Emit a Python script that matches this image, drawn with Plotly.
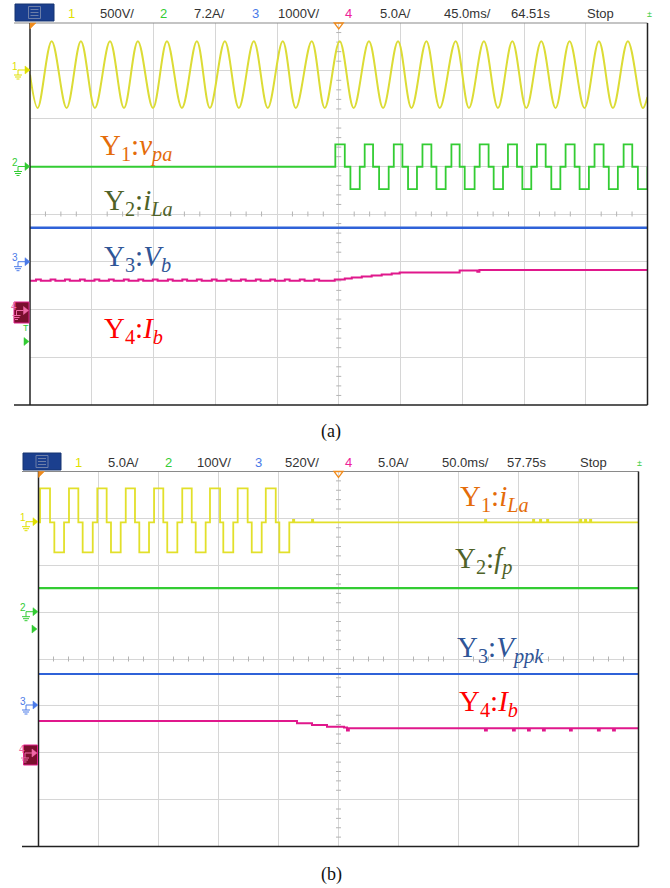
import plotly.graph_objects as go

# ================= DATA =================
# ---- panel (a): 45 ms/div, 10 div ; values in screen divisions (centre = 0)
A_T_MAX = 450.0
ch1a_peak_t = [15.8, 37.1, 58.3, 78.6, 99.8, 121.6, 142.0, 163.1, 184.2, 205.3, 225.7,
               247.0, 268.2, 288.9, 310.2, 330.8, 351.5, 372.6, 393.2, 414.6, 435.7]
ch1a_trough_t = [5.6, 26.7, 47.3, 68.5, 89.6, 110.7, 131.1, 152.2, 173.3, 193.7, 214.8,
                 235.9, 257.3, 278.0, 298.6, 319.9, 341.0, 361.7, 383.0, 404.1, 424.8, 446.6]
ch1a_peak_v = 3.62
ch1a_trough_v = 2.22
ch1a_start_v = 2.92
ch1a_end_v = 2.45

ch2a_zero, ch2a_hi, ch2a_lo = 0.99, 1.46, 0.52
ch2a_pos_start = [222.5, 243.9, 265.1, 286.0, 307.1, 327.7, 348.3, 369.4, 390.3, 411.4, 432.6]
ch2a_pos_end = [229.4, 250.0, 271.4, 292.5, 313.1, 334.2, 354.9, 375.8, 396.9, 418.0, 438.9]
ch2a_neg_start = [233.5, 254.4, 275.5, 296.2, 316.8, 337.9, 358.8, 379.9, 400.5, 421.8, 443.0]
ch2a_neg_end = [240.3, 261.4, 282.0, 302.9, 324.0, 344.7, 365.3, 386.5, 407.3, 428.4, 450.0]

ch3a_level = -0.29

ch4a_base = -1.40
ch4a_notch_v = -1.37
ch4a_notch_t = [4.4, 15.0, 25.5, 36.4, 47.0, 57.5, 68.4, 79.0, 89.5, 100.5, 111.0,
                121.6, 132.5, 143.1, 153.7, 164.6, 175.1, 185.7, 196.6, 207.2]
ch4a_step_t = [222.1, 229.4, 234.5, 241.8, 249.0, 256.3, 263.6, 269.4, 313.1, 326.0, 327.5]
ch4a_step_v = [-1.372, -1.351, -1.330, -1.309, -1.288, -1.267, -1.246, -1.225, -1.183, -1.21, -1.175]

# ---- panel (b): 50 ms/div, 10 div
B_T_MAX = 500.0
ch1b_zero, ch1b_hi, ch1b_lo = 2.915, 3.64, 2.275
ch1b_pos_start = [1.3, 25.4, 49.0, 72.7, 96.3, 119.8, 142.9, 166.0, 189.4]
ch1b_pos_end = [9.6, 33.2, 56.8, 80.4, 104.0, 127.7, 151.3, 174.3, 197.7]
ch1b_neg_start = [13.2, 36.8, 60.4, 84.0, 107.3, 131.0, 154.0, 177.7, 200.7]
ch1b_neg_end = [21.3, 45.2, 68.5, 92.1, 115.7, 139.3, 162.3, 186.0, 209.0]
ch1b_spike_t = [212.1, 227.9, 372.1, 412.1, 417.9, 423.8, 451.3, 455.4, 459.6]

ch2b_level = 1.514
ch3b_level = -0.32

ch4b_step_t = [0.0, 215.4, 227.9, 240.4, 254.6, 263.8]
ch4b_step_v = [-1.322, -1.371, -1.407, -1.443, -1.46, -1.478]
ch4b_spike_t = [257.1, 372.1, 395.4, 407.9, 420.4, 442.9, 466.2, 478.8]

# header texts
hdr_a = [("1", "#e0e000"), ("500V/", "#333"), ("2", "#33cc33"), ("7.2A/", "#333"),
         ("3", "#4a7ae8"), ("1000V/", "#333"), ("4", "#ee2299"), ("5.0A/", "#333"),
         ("45.0ms/", "#333"), ("64.51s", "#333"), ("Stop", "#333")]
hdr_b = [("1", "#e0e000"), ("5.0A/", "#333"), ("2", "#33cc33"), ("100V/", "#333"),
         ("3", "#4a7ae8"), ("520V/", "#333"), ("4", "#ee2299"), ("5.0A/", "#333"),
         ("50.0ms/", "#333"), ("57.75s", "#333"), ("Stop", "#333")]
hdr_a_x = [71, 116.5, 163, 209, 255, 299, 348, 395, 467, 531, 600]
hdr_b_x = [78, 123, 168, 213.5, 258, 301.5, 348, 393, 465, 526.5, 593.5]

labels_a = ["Y<sub>1</sub>:<i>v</i><sub><i>pa</i></sub>",
            "Y<sub>2</sub>:<i>i</i><sub><i>La</i></sub>",
            "Y<sub>3</sub>:<i>V</i><sub><i>b</i></sub>",
            "Y<sub>4</sub>:<i>I</i><sub><i>b</i></sub>"]
labels_b = ["Y<sub>1</sub>:<i>i</i><sub><i>La</i></sub>",
            "Y<sub>2</sub>:<i>f</i><sub><i>p</i></sub>",
            "Y<sub>3</sub>:<i>V</i><sub><i>ppk</i></sub>",
            "Y<sub>4</sub>:<i>I</i><sub><i>b</i></sub>"]
label_colors = ["#e46c0a", "#4f6228", "#2f5597", "#ff0000"]

# ================= helpers =================
FW, FH = 670, 888
def PX(x): return x / FW
def PY(y): return 1 - y / FH

FA = dict(x0=30, x1=647.5, y0=23, y1=405)      # panel a frame (page pixels)
FB = dict(x0=38.5, x1=638.5, y0=471.5, y1=846.5)  # panel b frame

def pulse_steps(zero, hi, lo, ps, pe, ns, ne, tmax):
    ev = [(0.0, zero)]
    for a, b in zip(ps, pe):
        ev += [(a, hi), (b, zero)]
    for a, b in zip(ns, ne):
        ev += [(a, lo), (b, zero)]
    ev.sort()
    ev.append((tmax, ev[-1][1]))
    return [e[0] for e in ev], [e[1] for e in ev]

fig = go.Figure()
XA, YA, XB, YB = "x", "y", "x2", "y2"

# minor ticks along centre lines
def centre_ticks(tmax, xa, ya, h_per_div_px, v_per_div_px):
    xs, ys = [], []
    ty = 2.5 / v_per_div_px     # in div
    tx = 2.5 / h_per_div_px * (tmax / 10)  # in ms
    for k in range(41):
        t = k * tmax / 40
        if k % 4 == 0:
            continue
        xs += [t, t, None]; ys += [-ty, ty, None]
    for k in range(41):
        v = -4 + k * 0.2
        if k % 5 == 0:
            continue
        xs += [tmax / 2 - tx, tmax / 2 + tx, None]; ys += [v, v, None]
    fig.add_trace(go.Scatter(x=xs, y=ys, mode="lines", line=dict(color="#b4b4b4", width=1),
                             hoverinfo="skip", showlegend=False, xaxis=xa, yaxis=ya))

centre_ticks(A_T_MAX, XA, YA, 61.75, 47.75)
centre_ticks(B_T_MAX, XB, YB, 60.0, 46.9)

# ---------- panel (a) traces ----------
pts = [(0.0, ch1a_start_v)] + [(t, ch1a_peak_v) for t in ch1a_peak_t] + \
      [(t, ch1a_trough_v) for t in ch1a_trough_t]
pts = sorted(pts)
pts.append((A_T_MAX, ch1a_end_v))
fig.add_trace(go.Scatter(x=[p[0] for p in pts], y=[p[1] for p in pts], mode="lines",
                         line=dict(color="#dcdc36", width=2, shape="spline", smoothing=1.0),
                         hoverinfo="skip", showlegend=False, xaxis=XA, yaxis=YA))

x2, y2 = pulse_steps(ch2a_zero, ch2a_hi, ch2a_lo, ch2a_pos_start, ch2a_pos_end,
                     ch2a_neg_start, ch2a_neg_end, A_T_MAX)
fig.add_trace(go.Scatter(x=x2, y=y2, mode="lines", line=dict(color="#33cc33", width=1.8, shape="hv"),
                         hoverinfo="skip", showlegend=False, xaxis=XA, yaxis=YA))

fig.add_trace(go.Scatter(x=[0, A_T_MAX], y=[ch3a_level, ch3a_level], mode="lines",
                         line=dict(color="#2f62d8", width=2.5),
                         hoverinfo="skip", showlegend=False, xaxis=XA, yaxis=YA))

ev = [(0.0, ch4a_base)]
for t in ch4a_notch_t:
    ev += [(t, ch4a_notch_v), (t + 3.5, ch4a_base)]
ev += list(zip(ch4a_step_t, ch4a_step_v))
ev.append((A_T_MAX, ch4a_step_v[-1]))
fig.add_trace(go.Scatter(x=[e[0] for e in ev], y=[e[1] for e in ev], mode="lines",
                         line=dict(color="#e0188c", width=2, shape="hv"),
                         hoverinfo="skip", showlegend=False, xaxis=XA, yaxis=YA))

# ---------- panel (b) traces ----------
x1b, y1b = pulse_steps(ch1b_zero, ch1b_hi, ch1b_lo, ch1b_pos_start, ch1b_pos_end,
                       ch1b_neg_start, ch1b_neg_end, B_T_MAX)
x1b = x1b[:-1]; y1b = y1b[:-1]
for t in ch1b_spike_t:
    x1b += [t, t + 1.0]; y1b += [ch1b_zero + 0.05, ch1b_zero]
x1b.append(B_T_MAX); y1b.append(ch1b_zero)
fig.add_trace(go.Scatter(x=x1b, y=y1b, mode="lines", line=dict(color="#e2e02a", width=1.8, shape="hv"),
                         hoverinfo="skip", showlegend=False, xaxis=XB, yaxis=YB))

fig.add_trace(go.Scatter(x=[0, B_T_MAX], y=[ch2b_level, ch2b_level], mode="lines",
                         line=dict(color="#33cc33", width=2.2),
                         hoverinfo="skip", showlegend=False, xaxis=XB, yaxis=YB))
fig.add_trace(go.Scatter(x=[0, B_T_MAX], y=[ch3b_level, ch3b_level], mode="lines",
                         line=dict(color="#2f62d8", width=2.2),
                         hoverinfo="skip", showlegend=False, xaxis=XB, yaxis=YB))

ev = list(zip(ch4b_step_t, ch4b_step_v))
for t in ch4b_spike_t:
    ev += [(t, ch4b_step_v[-1] - 0.045), (t + 1.5, ch4b_step_v[-1])]
ev.sort()
ev.append((B_T_MAX, ch4b_step_v[-1]))
fig.add_trace(go.Scatter(x=[e[0] for e in ev], y=[e[1] for e in ev], mode="lines",
                         line=dict(color="#e0188c", width=2, shape="hv"),
                         hoverinfo="skip", showlegend=False, xaxis=XB, yaxis=YB))

# ---------- axes ----------
grid = "#d6d6d6"
common = dict(showticklabels=False, ticks="", zeroline=False, showline=False,
              showgrid=True, gridcolor=grid, gridwidth=1, fixedrange=True)
fig.update_layout(
    width=FW, height=FH, margin=dict(l=0, r=0, t=0, b=0),
    paper_bgcolor="white", plot_bgcolor="white", showlegend=False,
    xaxis=dict(domain=[PX(FA["x0"]), PX(FA["x1"])], range=[0, A_T_MAX], dtick=A_T_MAX / 10, tick0=0,
               anchor="y", **common),
    yaxis=dict(domain=[PY(FA["y1"]), PY(FA["y0"])], range=[-4, 4], dtick=1, tick0=0, anchor="x", **common),
    xaxis2=dict(domain=[PX(FB["x0"]), PX(FB["x1"])], range=[0, B_T_MAX], dtick=B_T_MAX / 10, tick0=0,
                anchor="y2", **common),
    yaxis2=dict(domain=[PY(FB["y1"]), PY(FB["y0"])], range=[-4, 4], dtick=1, tick0=0, anchor="x2", **common),
)

shapes = []
ann = []

def line(x0, y0, x1, y1, color, w=1):
    shapes.append(dict(type="line", xref="paper", yref="paper", x0=PX(x0), y0=PY(y0),
                       x1=PX(x1), y1=PY(y1), line=dict(color=color, width=w)))

def poly(pts, fill, color, w=1):
    d = "M " + " L ".join(f"{PX(x):.5f},{PY(y):.5f}" for x, y in pts) + " Z"
    shapes.append(dict(type="path", xref="paper", yref="paper", path=d,
                       fillcolor=fill, line=dict(color=color, width=w)))

def rect(x0, y0, x1, y1, fill, color, w=1):
    shapes.append(dict(type="rect", xref="paper", yref="paper", x0=PX(x0), y0=PY(y0),
                       x1=PX(x1), y1=PY(y1), fillcolor=fill, line=dict(color=color, width=w)))

def text(x, y, s, size, color, family="Liberation Sans", xanchor="center"):
    ann.append(dict(xref="paper", yref="paper", x=PX(x), y=PY(y), text=s, showarrow=False,
                    xanchor=xanchor, yanchor="middle", font=dict(size=size, color=color, family=family)))

# frames
for F, lx in ((FA, 14), (FB, 22)):
    line(lx, F["y0"], F["x1"], F["y0"], "#8a8a8a", 1.2)
    line(lx, F["y1"], F["x1"], F["y1"], "#222", 1.5)
    line(F["x0"], F["y0"], F["x0"], F["y1"], "#222", 1.5)
    line(F["x1"], F["y0"], F["x1"], F["y1"], "#222", 1.5)
    # trigger markers
    poly([(F["x0"], F["y0"]), (F["x0"] + 6, F["y0"]), (F["x0"], F["y0"] + 6)], "#f08c1e", "#f08c1e", 0.5)
    cx = (F["x0"] + F["x1"]) / 2
    poly([(cx - 4.5, F["y0"]), (cx + 4.5, F["y0"]), (cx, F["y0"] + 6)], "rgba(0,0,0,0)", "#f08c1e", 1.3)

# header bars
def header(y_c, btn_x0, btn_x1, items, xs, green_x):
    rect(btn_x0, y_c - 8.5, btn_x1, y_c + 8.5, "#1b3f8e", "#163570", 1)
    bx = (btn_x0 + btn_x1) / 2
    rect(bx - 6, y_c - 6, bx + 6, y_c + 6, "rgba(0,0,0,0)", "#6c7ea8", 1)
    for dy in (-3, 0, 3):
        line(bx - 4, y_c + dy, bx + 4, y_c + dy, "#6c7ea8", 1)
    for (s, c), x in zip(items, xs):
        text(x, y_c + 1, s, 13, c)
    text(green_x, y_c + 1, "±", 9, "#33cc33")

header(12.5, 15, 54, hdr_a, hdr_a_x, 649)
header(461.5, 23, 61, hdr_b, hdr_b_x, 639)

# channel ground markers
def gnd_marker(tip_x, y, num, color):
    poly([(tip_x - 5, y - 4), (tip_x, y), (tip_x - 5, y + 4)], color, color, 0.5)
    line(tip_x - 12, y, tip_x - 5, y, color, 1)
    line(tip_x - 12, y, tip_x - 12, y + 5, color, 1)
    line(tip_x - 16, y + 5, tip_x - 8, y + 5, color, 1)
    line(tip_x - 15, y + 7, tip_x - 9, y + 7, color, 1)
    line(tip_x - 13.5, y + 9, tip_x - 10.5, y + 9, color, 1)
    text(tip_x - 15, y - 4, num, 10, color)

def ch4_box(x0, y0, x1, y1):
    rect(x0, y0, x1, y1, "#7a0f2e", "#e0208a", 1)
    cy = (y0 + y1) / 2
    gnd_marker(x1 - 0.5, cy - 2, "4", "#f06aa8")

gnd_marker(30, 70, "1", "#e0e000")
gnd_marker(30, 166.5, "2", "#33cc33")
gnd_marker(30, 261.7, "3", "#4a7ae8")
ch4_box(14, 302, 29, 323)
text(25.5, 328, "T", 9, "#33cc33")
poly([(24, 337.5), (29, 341.5), (24, 345.5)], "#33cc33", "#33cc33", 0.5)

gnd_marker(38, 521.7, "1", "#e0e000")
gnd_marker(38, 611.7, "2", "#33cc33")
poly([(32, 625), (37, 629), (32, 633)], "#33cc33", "#33cc33", 0.5)
gnd_marker(38, 705, "3", "#4a7ae8")
ch4_box(23.5, 745, 37.5, 765)

# signal labels
lab_a_pos = [(98, 147), (102, 202), (102, 258), (102, 330)]
lab_b_pos = [(458, 498), (453, 560), (455, 649), (457, 703)]
for s, c, (x, y) in zip(labels_a, label_colors, lab_a_pos):
    text(x, y, s, 29, c, family="Liberation Serif", xanchor="left")
for s, c, (x, y) in zip(labels_b, label_colors, lab_b_pos):
    text(x, y, s, 29, c, family="Liberation Serif", xanchor="left")

# captions
text(331, 431, "(a)", 18, "#111", family="Liberation Serif")
text(331, 874, "(b)", 18, "#111", family="Liberation Serif")

fig.update_layout(shapes=shapes, annotations=ann)
fig.write_html("out.html", config={"displayModeBar": False},
               post_script="document.body.style.margin='0';document.body.style.overflow='hidden';")
